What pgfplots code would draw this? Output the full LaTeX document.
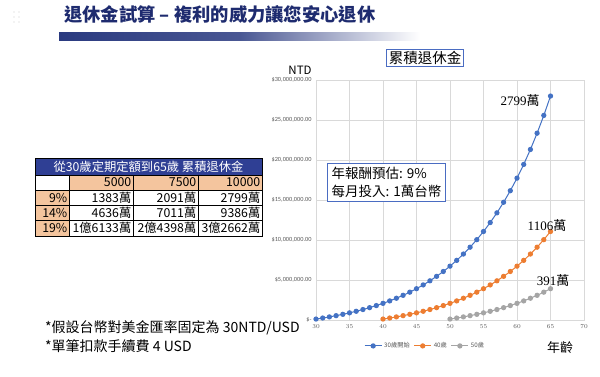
\documentclass[border=0pt]{standalone}
\usepackage{fontspec}
\setmainfont{Noto Sans CJK TC}
\newfontfamily\carlito{Carlito}
\newfontfamily\lserif{Liberation Serif}
\usepackage{pgfplots}
\pgfplotsset{compat=1.18}
\definecolor{xblue}{HTML}{4472C4}
\definecolor{xorange}{HTML}{ED7D31}
\definecolor{xgray}{HTML}{A5A5A5}
\definecolor{gridc}{HTML}{D9D9D9}
\definecolor{tickc}{HTML}{595959}
\definecolor{navy}{HTML}{1E2B6F}
\definecolor{barnavy}{HTML}{2A3A80}
\definecolor{hdr}{HTML}{2F3F94}
\definecolor{peach}{HTML}{F4C59E}
\definecolor{boxblue}{HTML}{4A6CC2}

\pgfplotstableread{
age val
30 118560
31 247790
32 388652
33 542190
34 709547
35 891962
36 1090804
37 1307536
38 1543773
39 1801279
40 2081948
41 2387886
42 2721354
43 3084842
44 3481030
45 3912883
46 4383574
47 4896689
48 5455950
49 6065544
50 6730003
51 7454263
52 8243707
53 9104205
54 10042191
55 11064491
56 12178868
57 13393512
58 14717523
59 16160594
60 17733752
61 19448222
62 21317123
63 23354243
64 25574674
65 27994956
}\tablethirty

\pgfplotstableread{
age val
40 118560
41 247790
42 388652
43 542190
44 709547
45 891962
46 1090804
47 1307536
48 1543773
49 1801279
50 2081948
51 2387886
52 2721354
53 3084842
54 3481030
55 3912883
56 4383574
57 4896689
58 5455950
59 6065544
60 6730003
61 7454263
62 8243707
63 9104205
64 10042191
65 11064491
}\tableforty

\pgfplotstableread{
age val
50 118560
51 247790
52 388652
53 542190
54 709547
55 891962
56 1090804
57 1307536
58 1543773
59 1801279
60 2081948
61 2387886
62 2721354
63 3084842
64 3481030
65 3912883
}\tablefifty

\begin{document}
\begin{tikzpicture}[x=1pt,y=1pt]
\path[use as bounding box, fill=white] (0pt,0pt) rectangle (600pt,376pt);

% decorative dots
\foreach \dx in {0,5} {\foreach \dy in {0,5,10} {\fill[gray!18] (14pt+\dx pt,364pt-\dy pt) circle (0.8pt);}}

% slide title
\node[anchor=west, inner sep=0pt, text=navy, font=\fontsize{18.3}{20}\selectfont\bfseries] at (64pt,362pt) {退休金試算 – 複利的威力讓您安心退休};
\shade[left color=barnavy, right color=white, middle color=barnavy!85] (59pt,336pt) rectangle (420pt,344pt);

% table
\fill[hdr] (35pt,201pt) rectangle (262pt,218pt);
\fill[peach] (69pt,186pt) rectangle (262pt,201pt);
\fill[peach] (35pt,140pt) rectangle (69pt,186pt);
\draw[black, line width=0.6pt] (35pt,218pt) rectangle (262pt,140pt);
\foreach \yy in {201,186,171,156} {\draw[black, line width=0.6pt] (35pt,\yy pt) -- (262pt,\yy pt);}
\foreach \xx in {69,133,198} {\draw[black, line width=0.6pt] (\xx pt,201pt) -- (\xx pt,140pt);}
\begin{scope}[every node/.style={inner sep=0pt, font=\fontsize{12.3}{14}\selectfont}]
\node[text=white] at (148.5pt,209.5pt) {從30歲定期定額到65歲 累積退休金};
\node[anchor=east] at (131.5pt,193.5pt) {5000};
\node[anchor=east] at (196.5pt,193.5pt) {7500};
\node[anchor=east] at (260.5pt,193.5pt) {10000};
\node[anchor=east] at (67.5pt,178.5pt) {9\%};
\node[anchor=east] at (67.5pt,163.5pt) {14\%};
\node[anchor=east] at (67.5pt,148pt) {19\%};
\node[anchor=east] at (131.5pt,178.5pt) {1383萬};
\node[anchor=east] at (196.5pt,178.5pt) {2091萬};
\node[anchor=east] at (260.5pt,178.5pt) {2799萬};
\node[anchor=east] at (131.5pt,163.5pt) {4636萬};
\node[anchor=east] at (196.5pt,163.5pt) {7011萬};
\node[anchor=east] at (260.5pt,163.5pt) {9386萬};
\node[anchor=east] at (131.5pt,148pt) {1億6133萬};
\node[anchor=east] at (196.5pt,148pt) {2億4398萬};
\node[anchor=east] at (260.5pt,148pt) {3億2662萬};
\end{scope}

% notes
\node[anchor=west, inner sep=0pt, font=\fontsize{14}{15}\selectfont] at (45pt,48pt) {*假設台幣對美金匯率固定為 30NTD/USD};
\node[anchor=west, inner sep=0pt, font=\fontsize{14}{15}\selectfont] at (45pt,30pt) {*單筆扣款手續費 4 USD};

% chart
\begin{axis}[
  at={(316pt,56pt)}, anchor=south west,
  scale only axis, width=268pt, height=240pt,
  xmin=30, xmax=70, ymin=0, ymax=30000000,
  xtick={30,35,...,70},
  ytick={0,5000000,10000000,15000000,20000000,25000000,30000000},
  yticklabels={{\$-},{\$5,000,000.00},{\$10,000,000.00},{\$15,000,000.00},{\$20,000,000.00},{\$25,000,000.00},{\$30,000,000.00}},
  scaled y ticks=false,
  grid=major,
  major grid style={draw=gridc, line width=0.9pt},
  axis line style={draw=gridc, line width=0.9pt},
  major tick length=0pt,
  tick label style={font=\carlito\fontsize{6.3}{7}\selectfont, text=tickc},
  xticklabel style={yshift=-1.5pt},
  yticklabel style={xshift=-1pt},
  clip=false,
  legend style={at={(0.407,-0.108)}, anchor=center, legend columns=3, draw=none, fill=none,
    font=\fontsize{6.2}{7}\selectfont, text=tickc, inner sep=0pt,
    /tikz/every even column/.append style={column sep=2pt}},
  legend cell align=left,
]
\addplot[xblue, line width=1pt, mark=*, mark size=2.1pt, mark options={fill=xblue, draw=xblue}] table[x=age, y=val] {\tablethirty};
\addlegendentry{30歲開始}
\addplot[xorange, line width=1pt, mark=*, mark size=2.1pt, mark options={fill=xorange, draw=xorange}] table[x=age, y=val] {\tableforty};
\addlegendentry{40歲}
\addplot[xgray, line width=1pt, mark=*, mark size=2.1pt, mark options={fill=xgray, draw=xgray}] table[x=age, y=val] {\tablefifty};
\addlegendentry{50歲}
\end{axis}

% chart texts
\node[draw=boxblue, line width=1pt, inner sep=2pt, font=\fontsize{14.5}{16}\selectfont] at (425pt,318pt) {累積退休金};
\node[font=\fontsize{11.5}{13}\selectfont, inner sep=0pt] at (300pt,306pt) {NTD};
\node[font=\fontsize{13}{15}\selectfont, inner sep=0pt] at (560pt,28pt) {年齡};
\node[draw=boxblue, line width=1pt, anchor=north west, align=left, inner sep=4pt,
  font=\fontsize{13.5}{17.5}\selectfont, fill=white] at (327pt,213pt) {年報酬預估: 9\%\\每月投入: 1萬台幣};
\node[font=\fontsize{13}{15}\selectfont, inner sep=0pt] at (520pt,275pt) {{\lserif 2799}萬};
\node[font=\fontsize{13}{15}\selectfont, inner sep=0pt] at (547pt,150pt) {{\lserif 1106}萬};
\node[font=\fontsize{13}{15}\selectfont, inner sep=0pt] at (553pt,95pt) {{\lserif 391}萬};
\end{tikzpicture}
\end{document}
